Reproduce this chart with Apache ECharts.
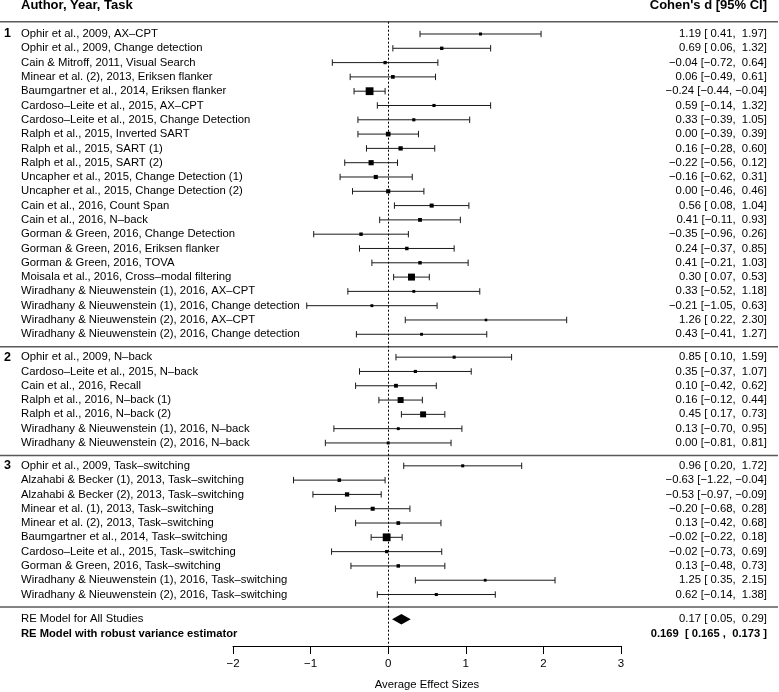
<!DOCTYPE html>
<html><head><meta charset="utf-8">
<script src="https://cdn.jsdelivr.net/npm/echarts@6/dist/echarts.min.js"></script>
<style>html,body{margin:0;padding:0;background:#fff}#c{width:779px;height:692px}</style>
</head><body><div id="c"></div>
<script>
// ---------- data ----------
const group1Labels = [
  'Ophir et al., 2009, AX–CPT',
  'Ophir et al., 2009, Change detection',
  'Cain & Mitroff, 2011, Visual Search',
  'Minear et al. (2), 2013, Eriksen flanker',
  'Baumgartner et al., 2014, Eriksen flanker',
  'Cardoso–Leite et al., 2015, AX–CPT',
  'Cardoso–Leite et al., 2015, Change Detection',
  'Ralph et al., 2015, Inverted SART',
  'Ralph et al., 2015, SART (1)',
  'Ralph et al., 2015, SART (2)',
  'Uncapher et al., 2015, Change Detection (1)',
  'Uncapher et al., 2015, Change Detection (2)',
  'Cain et al., 2016, Count Span',
  'Cain et al., 2016, N–back',
  'Gorman & Green, 2016, Change Detection',
  'Gorman & Green, 2016, Eriksen flanker',
  'Gorman & Green, 2016, TOVA',
  'Moisala et al., 2016, Cross–modal filtering',
  'Wiradhany & Nieuwenstein (1), 2016, AX–CPT',
  'Wiradhany & Nieuwenstein (1), 2016, Change detection',
  'Wiradhany & Nieuwenstein (2), 2016, AX–CPT',
  'Wiradhany & Nieuwenstein (2), 2016, Change detection'
];
const group1Est   = [1.19, 0.69, -0.04, 0.06, -0.24, 0.59, 0.33, 0.00, 0.16, -0.22, -0.16, 0.00, 0.56, 0.41, -0.35, 0.24, 0.41, 0.30, 0.33, -0.21, 1.26, 0.43];
const group1Lower = [0.41, 0.06, -0.72, -0.49, -0.44, -0.14, -0.39, -0.39, -0.28, -0.56, -0.62, -0.46, 0.08, -0.11, -0.96, -0.37, -0.21, 0.07, -0.52, -1.05, 0.22, -0.41];
const group1Upper = [1.97, 1.32, 0.64, 0.61, -0.04, 1.32, 1.05, 0.39, 0.60, 0.12, 0.31, 0.46, 1.04, 0.93, 0.26, 0.85, 1.03, 0.53, 1.18, 0.63, 2.30, 1.27];

const group2Labels = [
  'Ophir et al., 2009, N–back',
  'Cardoso–Leite et al., 2015, N–back',
  'Cain et al., 2016, Recall',
  'Ralph et al., 2016, N–back (1)',
  'Ralph et al., 2016, N–back (2)',
  'Wiradhany & Nieuwenstein (1), 2016, N–back',
  'Wiradhany & Nieuwenstein (2), 2016, N–back'
];
const group2Est   = [0.85, 0.35, 0.10, 0.16, 0.45, 0.13, 0.00];
const group2Lower = [0.10, -0.37, -0.42, -0.12, 0.17, -0.70, -0.81];
const group2Upper = [1.59, 1.07, 0.62, 0.44, 0.73, 0.95, 0.81];

const group3Labels = [
  'Ophir et al., 2009, Task–switching',
  'Alzahabi & Becker (1), 2013, Task–switching',
  'Alzahabi & Becker (2), 2013, Task–switching',
  'Minear et al. (1), 2013, Task–switching',
  'Minear et al. (2), 2013, Task–switching',
  'Baumgartner et al., 2014, Task–switching',
  'Cardoso–Leite et al., 2015, Task–switching',
  'Gorman & Green, 2016, Task–switching',
  'Wiradhany & Nieuwenstein (1), 2016, Task–switching',
  'Wiradhany & Nieuwenstein (2), 2016, Task–switching'
];
const group3Est   = [0.96, -0.63, -0.53, -0.20, 0.13, -0.02, -0.02, 0.13, 1.25, 0.62];
const group3Lower = [0.20, -1.22, -0.97, -0.68, -0.42, -0.22, -0.73, -0.48, 0.35, -0.14];
const group3Upper = [1.72, -0.04, -0.09, 0.28, 0.68, 0.18, 0.69, 0.73, 2.15, 1.38];

const groupNames = ['1', '2', '3'];

const summaryLabel = 'RE Model for All Studies';
const summaryEst = 0.17, summaryLower = 0.05, summaryUpper = 0.29;
const robustLabel = 'RE Model with robust variance estimator';
const robustEst = 0.169, robustLower = 0.165, robustUpper = 0.173;

const xTickValues = [-2, -1, 0, 1, 2, 3];
const headerLeft = 'Author, Year, Task';
const headerRight = "Cohen's d [95% CI]";
const axisTitle = 'Average Effect Sizes';

// ---------- layout ----------
const FONT = '"Liberation Sans", Arial, Helvetica, sans-serif';
const GROUP_GAP = 1.6, SUMMARY_GAP = 1.73, ROBUST_GAP = 1.03;
const groups = [
  [group1Labels, group1Est, group1Lower, group1Upper],
  [group2Labels, group2Est, group2Lower, group2Upper],
  [group3Labels, group3Est, group3Lower, group3Upper]
];
const rows = [];
const separators = [];
let yPos = 0;
groups.forEach((g, gi) => {
  if (gi > 0) { separators.push(yPos + GROUP_GAP / 2 + 0.08); yPos += GROUP_GAP; }
  g[0].forEach((lab, i) => {
    rows.push({label: lab, est: g[1][i], lb: g[2][i], ub: g[3][i], y: yPos, kind: 0, group: i === 0 ? groupNames[gi] : null});
    if (i < g[0].length - 1) yPos += 1;
  });
});
separators.push(yPos + SUMMARY_GAP / 2);
yPos += SUMMARY_GAP;
rows.push({label: summaryLabel, est: summaryEst, lb: summaryLower, ub: summaryUpper, y: yPos, kind: 1});
yPos += ROBUST_GAP;
rows.push({label: robustLabel, est: robustEst, lb: robustLower, ub: robustUpper, y: yPos, kind: 2});

const studyRows = rows.filter(r => r.kind === 0);
const inv = studyRows.map(r => 1 / (r.ub - r.lb));
const wMin = Math.min(...inv), wMax = Math.max(...inv);
function markerSize(r) { const w = 1 / (r.ub - r.lb); return 2.6 + 5.2 * (w - wMin) / (wMax - wMin); }

function fmt(v, d, pad) {
  const s = Math.abs(v).toFixed(d);
  return v < 0 ? '−' + s : (pad ? ' ' + s : s);
}
function ciText(r) {
  if (r.kind === 2) return fmt(r.est, 3) + '  [ ' + fmt(r.lb, 3) + ' ,  ' + fmt(r.ub, 3) + ' ]';
  return fmt(r.est, 2) + ' [' + fmt(r.lb, 2, true) + ', ' + fmt(r.ub, 2, true) + ']';
}

const Y_MIN = -0.86, Y_MAX = 42.8;
const LEFT_X = 21, RIGHT_X = 767, GROUP_X = 4;

const chart = echarts.init(document.getElementById('c'), null, {renderer: 'canvas'});
chart.setOption({
  animation: false,
  backgroundColor: '#fff',
  grid: {left: 233, right: 158, top: 21.7, bottom: 46, containLabel: false, outerBoundsMode: 'none'},
  xAxis: {
    type: 'value', min: -2, max: 3, interval: 1,
    axisLine: {show: true, onZero: false, lineStyle: {color: '#000', width: 1}},
    axisTick: {show: true, length: 8, lineStyle: {color: '#000', width: 1}},
    axisLabel: {color: '#000', fontSize: 11.5, fontFamily: FONT, margin: 12,
      formatter: v => xTickValues.includes(v) ? String(v).replace('-', '−') : ''},
    splitLine: {show: false},
    name: axisTitle, nameLocation: 'middle', nameGap: 33,
    nameTextStyle: {color: '#000', fontSize: 11.3, fontFamily: FONT}
  },
  yAxis: {type: 'value', inverse: true, min: Y_MIN, max: Y_MAX, show: false},
  graphic: [
    {type: 'text', left: LEFT_X, top: -1, style: {text: headerLeft, fill: '#000', font: 'bold 13px ' + FONT}},
    {type: 'text', right: 779 - RIGHT_X, top: -1, style: {text: headerRight, fill: '#000', font: 'bold 13px ' + FONT}}
  ],
  series: [
    {
      type: 'custom', clip: false, silent: true,
      data: [Y_MIN].concat(separators).map(v => [0, v]),
      encode: {x: 0, y: 1},
      renderItem: (params, api) => {
        const py = api.coord([0, api.value(1)])[1];
        return {type: 'line', shape: {x1: 0, y1: py, x2: 778, y2: py},
          style: {stroke: '#5a5a5a', lineWidth: 1.5}};
      }
    },
    {
      type: 'custom', clip: false, silent: true,
      data: rows.map(r => [r.est, r.lb, r.ub, r.y]),
      encode: {x: [0, 1, 2], y: 3},
      renderItem: (params, api) => {
        const r = rows[params.dataIndex];
        const c = api.coord([r.est, r.y]);
        const py = c[1];
        const xl = api.coord([r.lb, r.y])[0];
        const xu = api.coord([r.ub, r.y])[0];
        const children = [];
        if (r.kind === 0) {
          const s = markerSize(r);
          children.push({type: 'line', shape: {x1: xl, y1: py, x2: xu, y2: py}, style: {stroke: '#1a1a1a', lineWidth: 1}});
          children.push({type: 'line', shape: {x1: xl, y1: py - 3.2, x2: xl, y2: py + 3.2}, style: {stroke: '#1a1a1a', lineWidth: 1}});
          children.push({type: 'line', shape: {x1: xu, y1: py - 3.2, x2: xu, y2: py + 3.2}, style: {stroke: '#1a1a1a', lineWidth: 1}});
          children.push({type: 'rect', shape: {x: c[0] - s / 2, y: py - s / 2, width: s, height: s}, style: {fill: '#000'}});
        } else if (r.kind === 1) {
          children.push({type: 'polygon', shape: {points: [[xl, py], [c[0], py - 5.2], [xu, py], [c[0], py + 5.2]]}, style: {fill: '#000'}});
        }
        const bold = r.kind === 2;
        children.push({type: 'text', style: {x: LEFT_X, y: py, text: r.label, fill: '#000',
          font: (bold ? 'bold 11.2px ' : '11.3px ') + FONT, align: 'left', verticalAlign: 'middle'}});
        children.push({type: 'text', style: {x: RIGHT_X, y: py, text: ciText(r), fill: '#000',
          font: (bold ? 'bold 11.2px ' : '11.3px ') + FONT, align: 'right', verticalAlign: 'middle'}});
        if (r.group) {
          children.push({type: 'text', style: {x: GROUP_X, y: py, text: r.group, fill: '#000',
            font: 'bold 12.5px ' + FONT, align: 'left', verticalAlign: 'middle'}});
        }
        return {type: 'group', children: children};
      },
      markLine: {
        silent: true, symbol: 'none', label: {show: false}, animation: false,
        lineStyle: {color: '#000', type: [2, 2], width: 1},
        data: [{xAxis: 0}]
      }
    }
  ]
});
</script>
</body></html>
